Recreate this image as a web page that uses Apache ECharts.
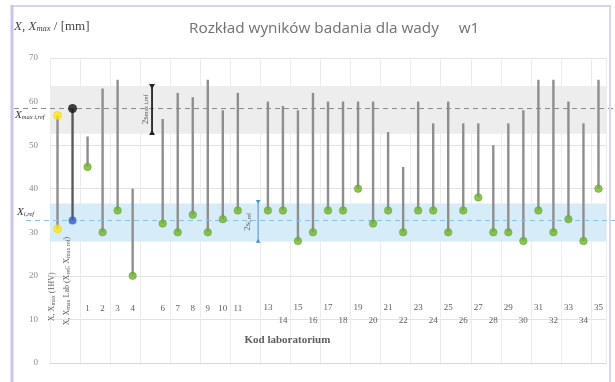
<!DOCTYPE html>
<html><head><meta charset="utf-8">
<script src="https://cdn.jsdelivr.net/npm/echarts@6/dist/echarts.min.js"></script>
<style>html,body{margin:0;padding:0;background:#fff}#c{width:615px;height:382px}</style>
</head><body><div id="c"></div>
<script>
// ---------- data ----------
const labCodes = ['1','2','3','4','5','6','7','8','9','10','11','12','13','14','15','16','17','18','19','20','21','22','23','24','25','26','27','28','29','30','31','32','33','34','35'];
const categories = ['X (1HV)', 'X ref'].concat(labCodes);
// X (lower end, green dot) per laboratory
const labX    = [45,30,35,20,null,32,30,34,30,33,35,null,35,35,28,30,35,35,40,32,35,30,35,35,30,35,38,30,30,28,35,30,33,28,40];
// X_max (upper end of the stem) per laboratory
const labXmax = [52,63,65,40,null,56,62,61,65,58,62,null,60,59,58,62,60,60,60,60,53,45,60,55,60,55,55,50,55,58,65,65,60,55,65];
const hv1 = [30.8, 56.8];        // X, X_max (1HV)
const ref = [32.7, 58.4];        // X_ref, X_max ref
const bandXref = [27.9, 36.6];   // X_ref ± s
const bandXmaxRef = [52.6, 63.6];// X_max ref ± s
const yTicks = [0, 10, 20, 30, 40, 50, 60, 70];

const SERIF = "'Liberation Serif','DejaVu Serif',serif";
const SANS = "'Open Sans','Liberation Sans',sans-serif";

// stems
const stemData = [];
stemData.push({value:[0, hv1[0], hv1[1]], itemStyle:{color:'#8e8e8e'}});
stemData.push({value:[1, ref[0], ref[1]], itemStyle:{color:'#5a5a5a'}});
labCodes.forEach((c, i) => {
  if (labX[i] != null && labXmax[i] != null)
    stemData.push({value:[i + 2, labX[i], labXmax[i]], itemStyle:{color:'#8e8e8e'}});
});
const greenDots = [];
labCodes.forEach((c, i) => { if (labX[i] != null) greenDots.push([i + 2, labX[i]]); });

// tick labels drawn inside the plot
const tickLabelData = [];
labCodes.forEach((c, i) => {
  if (labX[i] == null) return;
  const n = +c;
  const low = n >= 13 && n % 2 === 0;
  tickLabelData.push({value:[i + 2, low ? 9.7 : (n >= 13 ? 12.7 : 12.4)], name:c});
});

const chart = echarts.init(document.getElementById('c'), null, {renderer:'canvas'});

function arrowItem(color, lw, head) {
  return function (params, api) {
    const x = api.value(0);
    const p1 = api.coord([x, api.value(1)]);
    const p2 = api.coord([x, api.value(2)]);
    return {
      type:'group', children:[
        {type:'line', shape:{x1:p1[0], y1:p1[1]-head, x2:p2[0], y2:p2[1]+head}, style:{stroke:color, lineWidth:lw}},
        {type:'polygon', shape:{points:[[p1[0]-head*0.6,p1[1]-head],[p1[0]+head*0.6,p1[1]-head],[p1[0],p1[1]]]}, style:{fill:color}},
        {type:'polygon', shape:{points:[[p2[0]-head*0.6,p2[1]+head],[p2[0]+head*0.6,p2[1]+head],[p2[0],p2[1]]]}, style:{fill:color}}
      ]
    };
  };
}

const option = {
  animation:false,
  backgroundColor:'#fff',
  title:{
    text:'Rozkład wyników badania dla wady     w1',
    left:184, top:16,
    textStyle:{fontFamily:SANS, fontSize:15.3, fontWeight:'normal', color:'#707070'}
  },
  grid:{left:50, right:9, top:58, bottom:19, containLabel:false},
  xAxis:[
    {type:'category', data:categories, boundaryGap:true,
     axisLine:{show:true, lineStyle:{color:'#d9d9d9'}},
     axisTick:{show:false}, axisLabel:{show:false},
     splitLine:{show:true, interval:1, lineStyle:{color:'#ececec', width:1}}},
    {type:'value', min:-0.5, max:36.5, show:false}
  ],
  yAxis:{
    type:'value', min:yTicks[0], max:yTicks[yTicks.length-1], interval:10,
    axisLine:{show:false}, axisTick:{show:false},
    axisLabel:{color:'#8a8a8a', fontSize:9, fontFamily:SERIF, margin:12},
    splitLine:{lineStyle:{color:'#e3e3e3'}}
  },
  series:[
    // bands
    {type:'line', data:[], silent:true,
     markArea:{silent:true, data:[
       [{yAxis:bandXmaxRef[0], itemStyle:{color:'#ededed'}}, {yAxis:bandXmaxRef[1]}],
       [{yAxis:bandXref[0], itemStyle:{color:'#d6ecf8'}}, {yAxis:bandXref[1]}]
     ]}},
    // stems
    {type:'custom', xAxisIndex:0, data:stemData, z:3,
     encode:{x:0, y:[1,2]},
     renderItem(params, api){
       const a = api.coord([api.value(0), api.value(1)]);
       const b = api.coord([api.value(0), api.value(2)]);
       return {type:'line', shape:{x1:a[0], y1:a[1], x2:b[0], y2:b[1]},
         style:{stroke:api.visual('color'), lineWidth:2.4}};
     }},
    // green dots
    {type:'scatter', data:greenDots, symbolSize:7.5, z:5,
     itemStyle:{color:'#6fb52b', borderColor:'#5a9b1e', borderWidth:0.6}},
    // yellow 1HV dots
    {type:'scatter', data:[[0, hv1[0]], [0, hv1[1]]], symbolSize:8, z:5,
     itemStyle:{color:'#ffe514', borderColor:'#e8cc00', borderWidth:0.5}},
    // ref dots
    {type:'scatter', data:[[1, ref[1]]], symbolSize:9, z:5, itemStyle:{color:'#111'}},
    {type:'scatter', data:[[1, ref[0]]], symbolSize:8, z:5, itemStyle:{color:'#2e5fc6'}},
    // arrows
    {type:'custom', xAxisIndex:1, data:[[6.29, 62.9, 53.5]], z:6,
     renderItem:arrowItem('#222', 1.8, 5)},
    {type:'custom', xAxisIndex:1, data:[[13.35, 36.5, 28.5]], z:6,
     renderItem:arrowItem('#4a90d9', 1, 4)},
    // tick labels
    {type:'scatter', data:tickLabelData, symbolSize:0, silent:true, z:7,
     label:{show:true, position:'inside', formatter:p=>p.name,
       fontFamily:SERIF, fontSize:9, color:'#333'}},
    // text annotations on value axis
    {type:'scatter', xAxisIndex:1, symbolSize:0, silent:true, z:7,
     data:[
       {value:[15.3, 5.3], label:{formatter:'Kod laboratorium', fontSize:11, fontWeight:'bold', color:'#333'}},
       {value:[5.85, 58.2], label:{rotate:90, formatter:'{a|2s}{s|max i,ref}', fontSize:9, color:'#333',
         rich:{a:{fontFamily:SERIF, fontSize:9, color:'#333'}, s:{fontFamily:SERIF, fontSize:6, color:'#333', verticalAlign:'bottom'}}}},
       {value:[12.68, 32.4], label:{rotate:90, formatter:'{a|2s}{s|i,ref}', fontSize:9, color:'#444',
         rich:{a:{fontFamily:SERIF, fontSize:9, color:'#444'}, s:{fontFamily:SERIF, fontSize:6, color:'#444', verticalAlign:'bottom'}}}},
       {value:[-0.37, 15.2], label:{rotate:90, formatter:'{a|X, X}{s|max}{a| (1HV)}',
         rich:{a:{fontFamily:SERIF, fontSize:8, color:'#333'}, s:{fontFamily:SERIF, fontSize:6, color:'#333', verticalAlign:'bottom'}}}},
       {value:[0.63, 18.8], label:{rotate:90, formatter:'{a|X, X}{s|max}{a| Lab (X}{s|ref}{a|; X}{s|max ref}{a|)}',
         rich:{a:{fontFamily:SERIF, fontSize:8, color:'#333'}, s:{fontFamily:SERIF, fontSize:6, color:'#333', verticalAlign:'bottom'}}}}
     ],
     label:{show:true, position:'inside', fontFamily:SERIF}}
  ]
};
chart.setOption(option);

// full-width reference lines and side labels, positioned through the y axis scale
const yMaxRef = chart.convertToPixel({yAxisIndex:0}, ref[1]);
const yRef = chart.convertToPixel({yAxisIndex:0}, ref[0]);
const yLblMax = chart.convertToPixel({yAxisIndex:0}, hv1[1]);
const yLblRef = chart.convertToPixel({yAxisIndex:0}, 34.6);
chart.setOption({
  graphic:[
    {type:'rect', shape:{x:12, y:6, width:598, height:380}, style:{fill:'none', stroke:'#d6d6ee', lineWidth:2}, z:100},
    {type:'line', shape:{x1:12, y1:5, x2:12, y2:382}, style:{stroke:'#c6c6ea', lineWidth:3}, z:100},
    {type:'line', shape:{x1:14, y1:yMaxRef, x2:615, y2:yMaxRef}, style:{stroke:'#8a8a8a', lineWidth:1, lineDash:[5,4]}, z:4},
    {type:'line', shape:{x1:26, y1:yRef, x2:615, y2:yRef}, style:{stroke:'#8cc3e8', lineWidth:1, lineDash:[5,4]}, z:4},
    {type:'rect', shape:{x:14, y:yLblMax-6, width:36, height:12}, style:{fill:'#fff'}, z:8},
    {type:'text', x:15, y:yLblMax, z:9, style:{
      text:'{a|X}{s|max i,ref}', verticalAlign:'middle',
      rich:{a:{fontFamily:SERIF, fontStyle:'italic', fontSize:11, fill:'#333'}, s:{fontFamily:SERIF, fontStyle:'italic', fontSize:6.5, fill:'#333', verticalAlign:'bottom'}}}},
    {type:'text', x:17, y:yLblRef, z:9, style:{
      text:'{a|X}{s|i,ref}', verticalAlign:'middle',
      rich:{a:{fontFamily:SERIF, fontStyle:'italic', fontSize:11, fill:'#333'}, s:{fontFamily:SERIF, fontStyle:'italic', fontSize:6.5, fill:'#333', verticalAlign:'bottom'}}}},
    {type:'text', x:14, y:27, z:9, style:{
      text:'{a|X, X}{s|max}{b| / [mm]}', verticalAlign:'middle',
      rich:{a:{fontFamily:SERIF, fontStyle:'italic', fontSize:13, fill:'#444'}, s:{fontFamily:SERIF, fontStyle:'italic', fontSize:8.5, fill:'#444', verticalAlign:'bottom'}, b:{fontFamily:SERIF, fontSize:13, fill:'#444'}}}}
  ]
});
</script>
</body></html>
